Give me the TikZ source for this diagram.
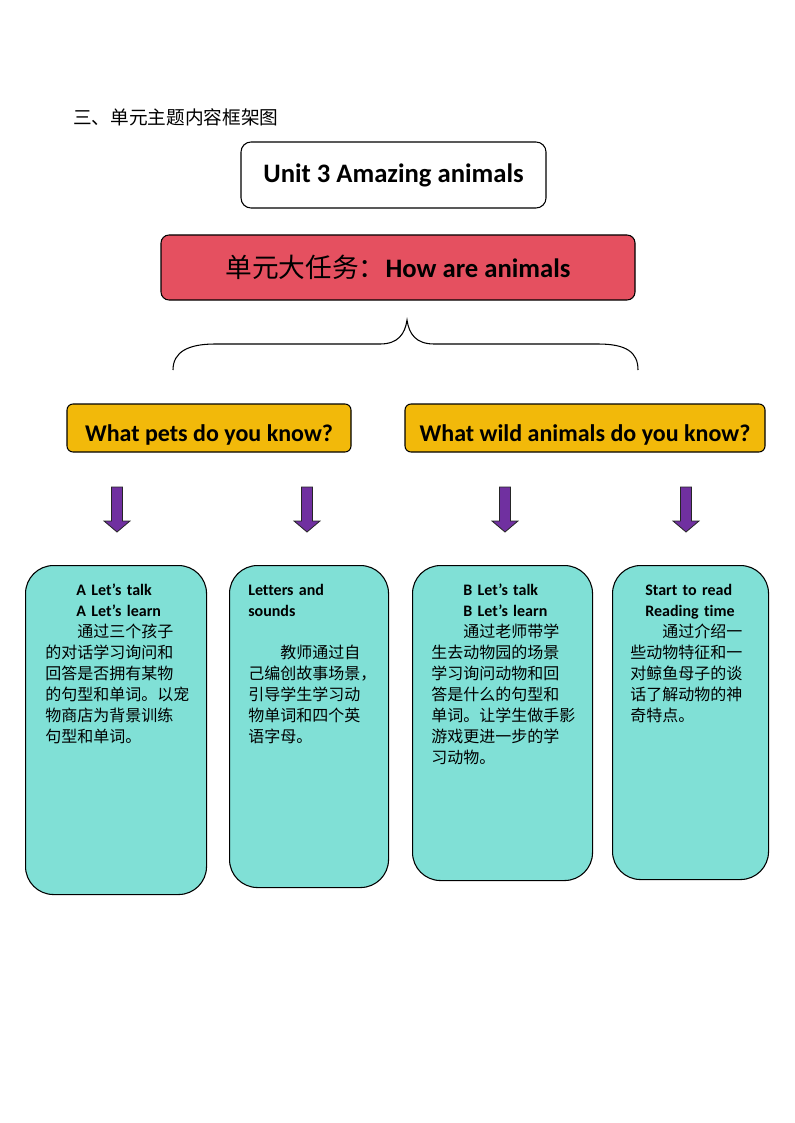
\documentclass[tikz,border=0pt]{standalone}
\usepackage{fontspec}
\setmainfont{Carlito}[Ligatures=NoCommon]
\newfontfamily\cjk{Noto Sans CJK SC}
\usepackage{xcolor}
\definecolor{taskred}{RGB}{229,80,96}
\definecolor{askyellow}{RGB}{242,185,10}
\definecolor{cardteal}{RGB}{128,224,214}
\definecolor{arrowpurple}{RGB}{112,48,160}

\begin{document}
\begin{tikzpicture}[x=0.75pt,y=-0.75pt,
  unitbox/.style={draw,line width=0.8pt,rounded corners=7.5pt,font=\bfseries\fontsize{20}{24}\selectfont},
  taskbox/.style={draw,line width=0.8pt,fill=taskred,rounded corners=6pt,font=\fontsize{20}{24}\selectfont},
  askbox/.style={draw,line width=0.8pt,fill=askyellow,rounded corners=4.5pt,text height=20pt,text depth=0pt,font=\bfseries\fontsize{18}{22}\selectfont},
  card/.style={draw,line width=0.8pt,fill=cardteal,rounded corners=21pt,anchor=north west},
  cardtext/.style={anchor=north west,inner sep=0pt,text width=125pt,align=left,font=\fontsize{12}{15.75}\selectfont},
  brace/.style={line width=0.8pt},
  downarrow/.style={draw=black!85,line width=0.6pt,fill=arrowpurple}]
  \useasboundingbox (0,0) rectangle (794,1123);
  % heading
  \node[anchor=west,inner sep=0pt,font=\cjk\fontsize{14}{16}\selectfont] (heading) at (73,117) {三、单元主题内容框架图};
  % unit and task
  \node[unitbox,minimum width={305*0.75pt},minimum height={66*0.75pt}] (unit) at (393.5,175) {Unit 3 Amazing animals};
  \node[taskbox,minimum width={474*0.75pt},minimum height={65*0.75pt}] (task) at (398,267.5) {{\cjk 单元大任务：}\textbf{How are animals}};
  % brace
  \coordinate (braceL) at (173,370);
  \coordinate (braceR) at (638,370);
  \coordinate (braceTip) at (407,320);
  \draw[brace] (braceL) .. controls (173,352) and (188,344) .. (215,344) -- (380,344)
    .. controls (398,344) and (405,334) .. (braceTip)
    .. controls (409,334) and (416,344) .. (434,344) -- (598,344)
    .. controls (626,344) and (638,352) .. (braceR);
  % questions
  \node[askbox,minimum width={284*0.75pt},minimum height={48*0.75pt}] (petask) at (209,428) {What pets do you know?};
  \node[askbox,minimum width={360*0.75pt},minimum height={48*0.75pt}] (wildask) at (585,428) {What wild animals do you know?};
  % block arrows
  \foreach \ax in {117,307,505,686} {
    \draw[downarrow] (\ax-5.5,487) -- (\ax+5.5,487) -- (\ax+5.5,521) -- (\ax+13,521)
      -- (\ax,532) -- (\ax-13,521) -- (\ax-5.5,521) -- cycle;
  }
  % cards
  \node[card,minimum width={181*0.75pt},minimum height={329*0.75pt}] (talkcard) at (25,565) {};
  \node[card,minimum width={159*0.75pt},minimum height={322*0.75pt}] (lettercard) at (229,565) {};
  \node[card,minimum width={180*0.75pt},minimum height={315*0.75pt}] (zoocard) at (412,565) {};
  \node[card,minimum width={156*0.75pt},minimum height={314*0.75pt}] (readcard) at (612,565) {};
  \node[cardtext] (talktext) at (45,584) {%
    \hspace*{23.25pt}\textbf{A Let’s talk}\\
    \hspace*{23.25pt}\textbf{A Let’s learn}\\
    {\cjk\hspace*{2em}通过三个孩子\\的对话学习询问和\\回答是否拥有某物\\的句型和单词。以宠\\物商店为背景训练\\句型和单词。}};
  \node[cardtext] (lettertext) at (248,584) {%
    \textbf{Letters and}\\
    \textbf{sounds}\\[15.75pt]
    {\cjk\hspace*{2em}教师通过自\\己编创故事场景，\\引导学生学习动\\物单词和四个英\\语字母。}};
  \node[cardtext] (zootext) at (431,584) {%
    \hspace*{24pt}\textbf{B Let’s talk}\\
    \hspace*{24pt}\textbf{B Let’s learn}\\
    {\cjk\hspace*{2em}通过老师带学\\生去动物园的场景\\学习询问动物和回\\答是什么的句型和\\单词。让学生做手影\\游戏更进一步的学\\习动物。}};
  \node[cardtext] (readtext) at (630,584) {%
    \hspace*{11.25pt}\textbf{Start to read}\\
    \hspace*{11.25pt}\textbf{Reading time}\\
    {\cjk\hspace*{2em}通过介绍一\\些动物特征和一\\对鲸鱼母子的谈\\话了解动物的神\\奇特点。}};
\end{tikzpicture}
\end{document}
